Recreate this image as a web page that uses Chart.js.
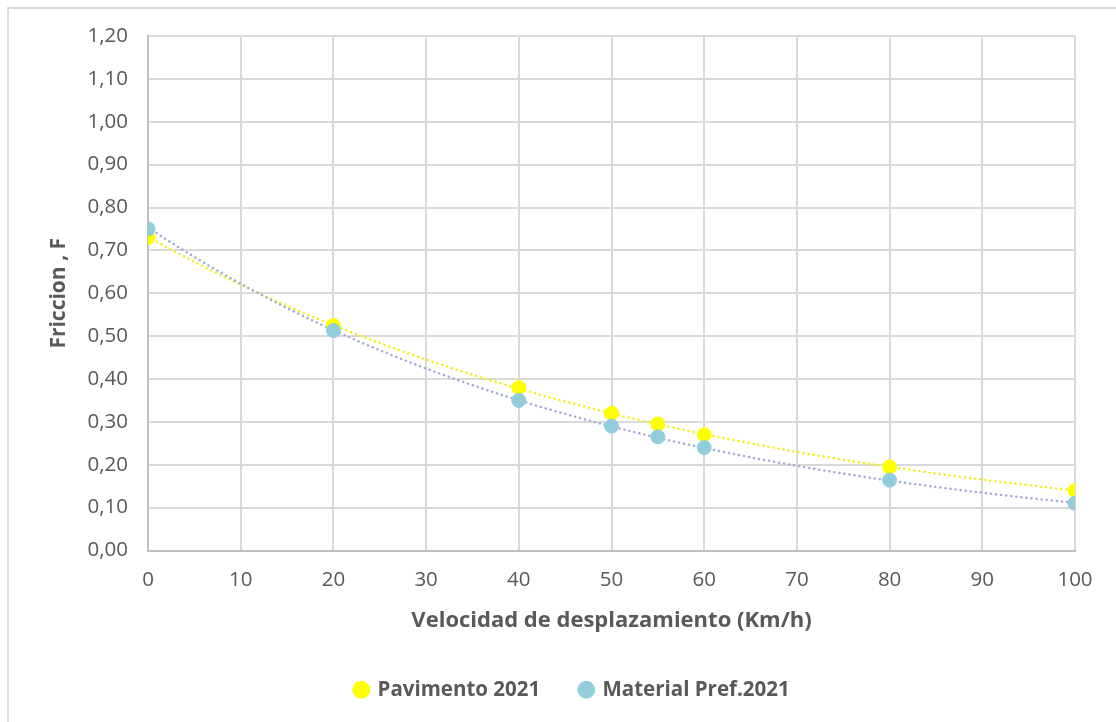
<!DOCTYPE html>
<html>
<head>
<meta charset="utf-8">
<script src="https://cdn.jsdelivr.net/npm/chart.js@4/dist/chart.umd.min.js"></script>
<style>
  html, body { margin: 0; padding: 0; background: #ffffff; overflow: hidden; }
  #wrap { position: relative; width: 1116px; height: 722px; overflow: hidden; }
  #frame { position: absolute; left: 7px; top: 7px; width: 1130px; height: 730px; border: 2px solid #dcdcdc; box-sizing: border-box; }
  canvas { position: absolute; left: 0; top: 0; }
</style>
</head>
<body>
<div id="wrap">
  <div id="frame"></div>
  <canvas id="c" width="1116" height="722"></canvas>
</div>
<script>
// Speed (km/h) at which friction was measured
const speeds = [0, 20, 40, 50, 55, 60, 80, 100];
// Friction coefficient, pavement 2021
const pavimento2021 = [0.73, 0.525, 0.38, 0.32, 0.295, 0.27, 0.195, 0.14];
// Friction coefficient, preferred material 2021
const materialPref2021 = [0.75, 0.513, 0.35, 0.29, 0.265, 0.24, 0.164, 0.11];
// Y axis tick labels
const yTickLabels = ['0,00','0,10','0,20','0,30','0,40','0,50','0,60','0,70','0,80','0,90','1,00','1,10','1,20'];
const seriesNames = ['Pavimento 2021', 'Material Pref.2021'];

// Least-squares exponential trendline y = a * e^(b x), as in a spreadsheet trendline
function expFit(xs, ys) {
  const n = xs.length;
  let sx = 0, sy = 0, sxx = 0, sxy = 0;
  for (let i = 0; i < n; i++) {
    const ly = Math.log(ys[i]);
    sx += xs[i]; sy += ly; sxx += xs[i] * xs[i]; sxy += xs[i] * ly;
  }
  const b = (n * sxy - sx * sy) / (n * sxx - sx * sx);
  const a = Math.exp((sy - b * sx) / n);
  const pts = [];
  const x0 = Math.min(...xs), x1 = Math.max(...xs);
  for (let x = x0; x <= x1; x += 1) pts.push({ x: x, y: a * Math.exp(b * x) });
  return pts;
}

const toPoints = (xs, ys) => xs.map((x, i) => ({ x: x, y: ys[i] }));

const grey = '#595959';
const gridCol = '#d9d9d9';
const fontFam = "'Open Sans', 'DejaVu Sans', sans-serif";

// Nudge the legend block to the right so it sits under the middle of the page
const legendShift = {
  id: 'legendShift',
  afterLayout(chart) {
    if (chart.legend) {
      chart.legend.left += 31;
      chart.legend.right += 31;
    }
  }
};

new Chart(document.getElementById('c'), {
  type: 'scatter',
  plugins: [legendShift],
  data: {
    datasets: [
      {
        label: seriesNames[0], data: toPoints(speeds, pavimento2021),
        backgroundColor: '#ffff00', borderColor: '#ffff00', pointRadius: 7, pointHoverRadius: 7, order: 2
      },
      {
        label: seriesNames[1], data: toPoints(speeds, materialPref2021),
        backgroundColor: '#92cddc', borderColor: '#92cddc', pointRadius: 7, pointHoverRadius: 7, order: 1
      },
      {
        type: 'line', label: 'trend-pav', data: expFit(speeds, pavimento2021),
        borderColor: '#f2f21a', borderWidth: 2.5, borderDash: [0.1, 5], borderCapStyle: 'round',
        pointRadius: 0, fill: false, tension: 0, order: 4
      },
      {
        type: 'line', label: 'trend-mat', data: expFit(speeds, materialPref2021),
        borderColor: '#a3aad6', borderWidth: 2.5, borderDash: [0.1, 5], borderCapStyle: 'round',
        pointRadius: 0, fill: false, tension: 0, order: 3
      }
    ]
  },
  options: {
    responsive: false,
    animation: false,
    layout: { padding: { left: 8, right: 41, top: 36, bottom: 12 } },
    plugins: {
      tooltip: { enabled: false },
      legend: {
        position: 'bottom',
        labels: {
          filter: (item) => seriesNames.includes(item.text),
          sort: (a, b) => a.datasetIndex - b.datasetIndex,
          usePointStyle: true, pointStyle: 'circle', boxWidth: 12, boxHeight: 12,
          color: grey, font: { family: fontFam, size: 20.5, weight: 'bold' }, padding: 40
        }
      }
    },
    scales: {
      x: {
        type: 'linear', min: 0, max: 100,
        ticks: { stepSize: 10, color: grey, font: { family: fontFam, size: 20.5 }, padding: 17 },
        grid: { color: gridCol, lineWidth: 2, drawTicks: false },
        border: { color: '#bfbfbf', width: 2 },
        title: { display: true, text: 'Velocidad de desplazamiento (Km/h)', color: grey, font: { family: fontFam, size: 22, weight: 'bold' }, padding: { top: 14, bottom: 6 } },
        afterFit: (s) => { s.height = 89; }
      },
      y: {
        min: 0, max: 1.2,
        ticks: { stepSize: 0.1, color: grey, font: { family: fontFam, size: 20.5 }, padding: 20,
          callback: (v) => yTickLabels[Math.round(v * 10)] },
        grid: { color: gridCol, lineWidth: 2, drawTicks: false },
        border: { color: '#bfbfbf', width: 2 },
        title: { display: true, text: 'Friccion , F', color: grey, font: { family: fontFam, size: 21, weight: 'bold' }, padding: { top: 38, bottom: 0 } },
        afterFit: (s) => { s.width = 140; }
      }
    }
  }
});
</script>
</body>
</html>
